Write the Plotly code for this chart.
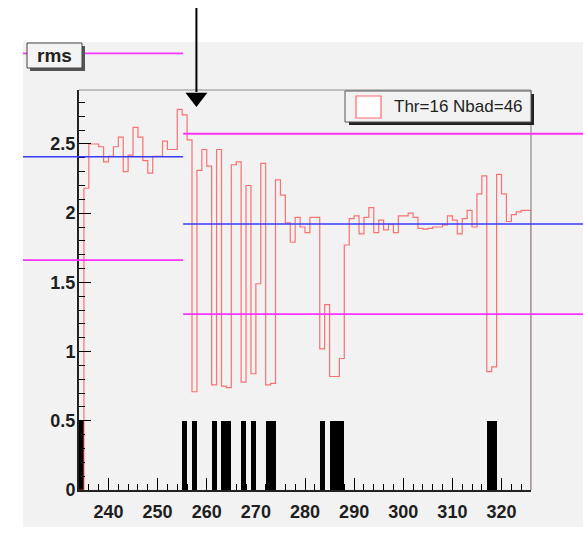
import plotly.graph_objects as go

# ---------------- data ----------------
channels = list(range(234, 326))  # lower bin edges, bin width 1
rms = [
    0.00, 2.18, 2.50, 2.50, 2.48, 2.37, 2.41, 2.48, 2.55, 2.30,   # 234-243
    2.42, 2.62, 2.55, 2.38, 2.29, 2.41, 2.41, 2.52, 2.46, 2.46,   # 244-253
    2.75, 2.71, 2.53, 0.71, 2.31, 2.46, 2.34, 0.76, 2.46, 0.75,   # 254-263
    0.74, 2.35, 2.37, 0.78, 2.20, 0.84, 1.49, 2.36, 0.76, 0.77,   # 264-273
    2.24, 2.13, 1.93, 1.79, 1.97, 1.90, 1.86, 1.97, 1.97, 1.02,   # 274-283
    1.34, 0.82, 0.82, 0.95, 1.77, 1.96, 1.98, 1.85, 1.97, 2.04,   # 284-293
    1.86, 1.95, 1.88, 1.92, 1.86, 1.98, 1.98, 2.00, 1.97, 1.89,   # 294-303
    1.885, 1.89, 1.90, 1.90, 1.915, 1.98, 1.95, 1.85, 1.96, 2.02, # 304-313
    1.90, 2.14, 2.27, 0.855, 0.89, 2.28, 2.14, 1.94, 1.99, 2.01,  # 314-323
    2.02, 2.02,                                                   # 324-325
]
bad_channels = [234, 255, 257, 261, 263, 264, 267, 269, 272, 273,
                283, 285, 286, 287, 317, 318]
bad_height = 0.5

x_ticks = [240, 250, 260, 270, 280, 290, 300, 310, 320]
y_ticks = [0, 0.5, 1, 1.5, 2, 2.5]
y_ticktext = ["0", "0.5", "1", "1.5", "2", "2.5"]

split_channel = 255.2          # boundary of the two reference bands
band_means = [2.408, 1.922]    # left / right mean levels (blue)
band_halfwidths = [0.747, 0.652]  # magenta band half widths
arrow_channel = 257.9
arrow_tip_value = 2.835

legend_label = "Thr=16 Nbad=46"
title_text = "rms"

# ---------------- geometry ----------------
X_RANGE = [234, 326]
Y_RANGE = [0, 2.89]
W, H = 583, 534
L, R, T, B = 79, 52, 90, 44
PW = W - L - R
PH = H - T - B


def pxx(px):
    return (px - L) / PW


def pxy(py):
    return (H - B - py) / PH


def valy(v):
    return (v - Y_RANGE[0]) / (Y_RANGE[1] - Y_RANGE[0])


def chx(c):
    return (c - X_RANGE[0]) / (X_RANGE[1] - X_RANGE[0])


fig = go.Figure()

# bad-channel flags (black bars)
fig.add_trace(go.Bar(
    x=[c + 0.5 for c in channels],
    y=[bad_height if c in bad_channels else 0 for c in channels],
    width=1, marker=dict(color="black", line=dict(width=0)),
    showlegend=False, hoverinfo="skip",
))

# rms histogram outline
fig.add_trace(go.Scatter(
    x=channels + [channels[-1] + 1, channels[-1] + 1],
    y=rms + [rms[-1], 0],
    mode="lines", line=dict(shape="hv", color="rgba(255,70,70,0.75)", width=1.2),
    showlegend=False, hoverinfo="skip",
))

# arrow head
fig.add_trace(go.Scatter(
    x=[arrow_channel], y=[arrow_tip_value], mode="markers",
    marker=dict(symbol="triangle-down", size=19, color="black", line=dict(width=0)),
    cliponaxis=False, showlegend=False, hoverinfo="skip",
))

shapes = []
# grey canvas
shapes.append(dict(type="rect", xref="paper", yref="paper",
                   x0=pxx(23), x1=pxx(583), y0=pxy(527), y1=pxy(42),
                   fillcolor="#f2f2f2", line=dict(width=0), layer="below"))
# frame top / right
shapes.append(dict(type="line", xref="paper", yref="paper", x0=0, x1=1, y0=1, y1=1,
                   line=dict(color="#8a8a8a", width=1.2)))
shapes.append(dict(type="line", xref="paper", yref="paper", x0=1, x1=1, y0=0, y1=1,
                   line=dict(color="#8a8a8a", width=1.2)))

# reference bands
segs = [(pxx(23), chx(split_channel)), (chx(split_channel), pxx(583))]
for (x0, x1), m, hw in zip(segs, band_means, band_halfwidths):
    shapes.append(dict(type="line", xref="paper", yref="paper", x0=x0, x1=x1,
                       y0=valy(m), y1=valy(m), line=dict(color="#3a3aff", width=1.5)))
    for v in (m + hw, m - hw):
        shapes.append(dict(type="line", xref="paper", yref="paper", x0=x0, x1=x1,
                           y0=valy(v), y1=valy(v), line=dict(color="#ff33ff", width=1.8)))

# arrow shaft
shapes.append(dict(type="line", xref="paper", yref="paper",
                   x0=chx(arrow_channel), x1=chx(arrow_channel),
                   y0=pxy(8), y1=pxy(92), line=dict(color="black", width=2)))

# title box with shadow
shapes.append(dict(type="rect", xref="paper", yref="paper",
                   x0=pxx(30), x1=pxx(85), y0=pxy(71), y1=pxy(46),
                   fillcolor="#555555", line=dict(width=0)))
shapes.append(dict(type="rect", xref="paper", yref="paper",
                   x0=pxx(27), x1=pxx(82), y0=pxy(68), y1=pxy(43),
                   fillcolor="#f4f4f4", line=dict(color="#444444", width=1)))

# legend box with shadow
shapes.append(dict(type="rect", xref="paper", yref="paper",
                   x0=pxx(349), x1=pxx(534), y0=pxy(125), y1=pxy(94),
                   fillcolor="#222222", line=dict(width=0)))
shapes.append(dict(type="rect", xref="paper", yref="paper",
                   x0=pxx(345), x1=pxx(531), y0=pxy(122), y1=pxy(91),
                   fillcolor="#f2f2f2", line=dict(color="#555555", width=1)))
shapes.append(dict(type="rect", xref="paper", yref="paper",
                   x0=pxx(356), x1=pxx(381), y0=pxy(118), y1=pxy(96),
                   fillcolor="white", line=dict(color="rgba(255,70,70,0.8)", width=1.2)))

annotations = [
    dict(text=title_text, xref="paper", yref="paper", x=pxx(54.5), y=pxy(55.5),
         showarrow=False, xanchor="center", yanchor="middle",
         font=dict(family="Liberation Sans", size=19, color="#222", weight="bold")),
    dict(text=legend_label, xref="paper", yref="paper", x=pxx(392), y=pxy(106),
         showarrow=False, xanchor="left", yanchor="middle",
         font=dict(family="Liberation Sans", size=17, color="#222")),
]

tickfont = dict(family="Liberation Sans", size=18, color="#1e1e1e", weight="bold")

fig.update_layout(
    width=W, height=H,
    margin=dict(l=L, r=R, t=T, b=B, pad=0),
    paper_bgcolor="white", plot_bgcolor="rgba(0,0,0,0)",
    bargap=0, showlegend=False,
    shapes=shapes, annotations=annotations,
    xaxis=dict(range=X_RANGE, tickmode="array", tickvals=x_ticks,
               ticks="inside", ticklen=12, tickwidth=1, tickcolor="black",
               minor=dict(ticks="inside", dtick=2, tick0=0, ticklen=6, tickcolor="black", tickwidth=1),
               showline=True, linecolor="#222", linewidth=2,
               showgrid=False, zeroline=False, tickfont=tickfont,
               ticklabelstandoff=4),
    yaxis=dict(range=Y_RANGE, tickmode="array", tickvals=y_ticks, ticktext=y_ticktext,
               ticks="inside", ticklen=12, tickwidth=1, tickcolor="black",
               minor=dict(ticks="inside", dtick=0.1, tick0=0, ticklen=6, tickcolor="black", tickwidth=1),
               showline=True, linecolor="#222", linewidth=2,
               showgrid=False, zeroline=False, tickfont=tickfont,
               ticklabelstandoff=-2),
)

fig.write_html("out.html",
               config={"displayModeBar": False},
               post_script="document.body.style.margin='0';document.body.style.padding='0';")
